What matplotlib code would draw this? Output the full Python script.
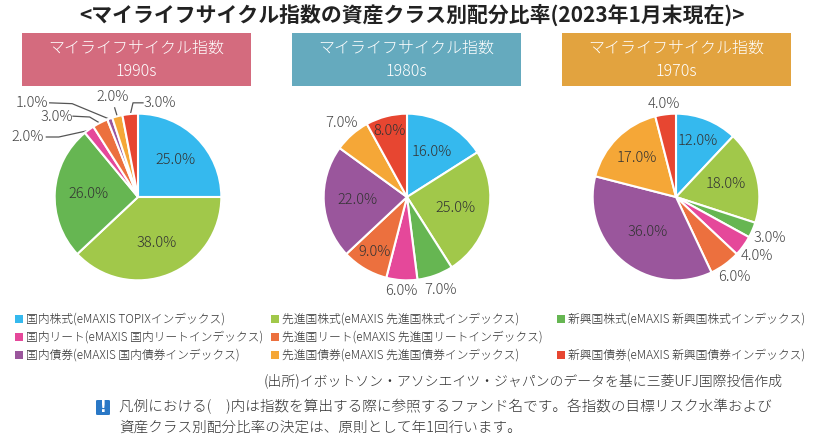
import matplotlib
matplotlib.use("Agg")
import matplotlib.pyplot as plt
from matplotlib.patches import Rectangle, FancyBboxPatch
import numpy as np

plt.rcParams["font.family"] = ["Noto Sans CJK JP", "DejaVu Sans"]

W, H = 824, 448

# ---- data ----
asset_classes = ["国内株式", "先進国株式", "新興国株式", "国内リート", "先進国リート",
                 "国内債券", "先進国債券", "新興国債券"]
legend_labels = [
    "国内株式(eMAXIS TOPIXインデックス)",
    "先進国株式(eMAXIS 先進国株式インデックス)",
    "新興国株式(eMAXIS 新興国株式インデックス)",
    "国内リート(eMAXIS 国内リートインデックス)",
    "先進国リート(eMAXIS 先進国リートインデックス)",
    "国内債券(eMAXIS 国内債券インデックス)",
    "先進国債券(eMAXIS 先進国債券インデックス)",
    "新興国債券(eMAXIS 新興国債券インデックス)",
]
index_names = ["1990s", "1980s", "1970s"]
alloc_1990s = [25, 38, 26, 2, 3, 1, 2, 3]
alloc_1980s = [16, 25, 7, 6, 9, 22, 7, 8]
alloc_1970s = [12, 18, 3, 4, 6, 36, 17, 4]

colors = ["#35B9EE", "#A1C84A", "#66B652", "#E5489A", "#EC703E",
          "#9A569C", "#F5A737", "#E74631"]
header_colors = ["#D46B7E", "#65AABE", "#E2A33F"]


def px(x, y):
    return x / W, 1 - y / H


fig = plt.figure(figsize=(W / 100, H / 100), dpi=100)

# title
fig.text(*px(412, 15), "<マイライフサイクル指数の資産クラス別配分比率(2023年1月末現在)>",
         ha="center", va="center", fontsize=15, fontweight="bold", color="#222222")

# header boxes
for i, (name, hc) in enumerate(zip(index_names, header_colors)):
    x0 = 22 + 270 * i
    fig.patches.append(Rectangle(px(x0, 86), 229 / W, 53 / H, transform=fig.transFigure,
                                 facecolor=hc, edgecolor="none"))
    fig.text(*px(x0 + 114.5, 48), "マイライフサイクル指数", ha="center", va="center",
             fontsize=11.5, color="white", fontweight="light")
    fig.text(*px(x0 + 114.5, 72), name, ha="center", va="center",
             fontsize=11.5, color="white", fontweight="light")

# per-slice label distance (layout); None -> leader-line label
dist_1980 = [0.62, 0.60, 1.18, 1.13, 0.76, 0.60, 1.18, 0.82]
dist_1970 = [0.72, 0.62, 1.23, 1.20, 1.19, 0.54, 0.67, 1.12]
dist_1990 = [0.63, 0.60, 0.60, None, None, None, None, None]

# leader layout for the small 1990s slices: text pos, line start, elbow
leaders_1990 = {
    3: ((-1.32, 0.72), (-1.10, 0.72), (-0.95, 0.72)),
    4: ((-0.97, 0.96), (-0.78, 0.97), (-0.58, 0.96)),
    5: ((-1.27, 1.13), (-1.06, 1.13), (-0.79, 1.12)),
    6: ((-0.30, 1.20), (-0.28, 1.07), (-0.28, 1.07)),
    7: ((0.26, 1.13), (0.06, 1.13), (-0.06, 1.13)),
}

pies = [(alloc_1990s, dist_1990), (alloc_1980s, dist_1980), (alloc_1970s, dist_1970)]
centers = [(138, 197), (407, 197), (676, 197)]
side = 180

for (vals, dists), (cx, cy) in zip(pies, centers):
    l, b = px(cx - side / 2, cy + side / 2)
    ax = fig.add_axes([l, b, side / W, side / H])
    wedges, _ = ax.pie(vals, colors=colors, startangle=90, counterclock=False,
                       radius=1.0, wedgeprops=dict(edgecolor="white", linewidth=1.5))
    ax.set_xlim(-1.08, 1.08)
    ax.set_ylim(-1.08, 1.08)
    ax.set_aspect("equal")
    ax.axis("off")
    for j, (w, v) in enumerate(zip(wedges, vals)):
        mid = np.deg2rad((w.theta1 + w.theta2) / 2)
        ux, uy = np.cos(mid), np.sin(mid)
        lab = f"{v:.1f}%"
        d = dists[j]
        if d is not None:
            c = "#333333" if d < 1 else "#444444"
            ax.text(d * ux, d * uy, lab, ha="center", va="center", fontsize=10.5,
                    color=c, fontweight="light", clip_on=False)
        else:
            (tx, ty), s, e = leaders_1990[j]
            ax.text(tx, ty, lab, ha="center", va="center", fontsize=10.5,
                    color="#444444", fontweight="light", clip_on=False)
            ax.plot([s[0], e[0], 0.99 * ux], [s[1], e[1], 0.99 * uy],
                    color="#555555", lw=0.9, clip_on=False, zorder=0)

# legend
col_x = [15, 271, 557]
row_y = [319, 337, 355]
slots = [(0, 0), (0, 1), (0, 2), (1, 0), (1, 1), (2, 0), (2, 1), (2, 2)]
for lab, c, (r, cidx) in zip(legend_labels, colors, slots):
    x, y = col_x[cidx], row_y[r]
    fig.patches.append(Rectangle(px(x, y + 4), 8 / W, 8 / H, transform=fig.transFigure,
                                 facecolor=c, edgecolor="none"))
    fig.text(*px(x + 11, y), lab, ha="left", va="center", fontsize=8.5,
             color="#333333", fontweight="light")

# source
fig.text(*px(783, 381), "(出所)イボットソン・アソシエイツ・ジャパンのデータを基に三菱UFJ国際投信作成",
         ha="right", va="center", fontsize=10, color="#333333", fontweight="light")

# note with icon
fig.patches.append(FancyBboxPatch(px(96, 415), 14 / W, 15 / H, transform=fig.transFigure,
                                  boxstyle="round,pad=0,rounding_size=0.002",
                                  facecolor="#2A78C6", edgecolor="none"))
fig.text(*px(103, 407.5), "!", ha="center", va="center", fontsize=10.5,
         fontweight="bold", color="white", family="DejaVu Sans")
fig.text(*px(119, 407), "凡例における(　)内は指数を算出する際に参照するファンド名です。各指数の目標リスク水準および",
         ha="left", va="center", fontsize=10.5, color="#333333", fontweight="light")
fig.text(*px(119, 428), "資産クラス別配分比率の決定は、原則として年1回行います。",
         ha="left", va="center", fontsize=10.5, color="#333333", fontweight="light")

fig.savefig("out.png", dpi=100)
